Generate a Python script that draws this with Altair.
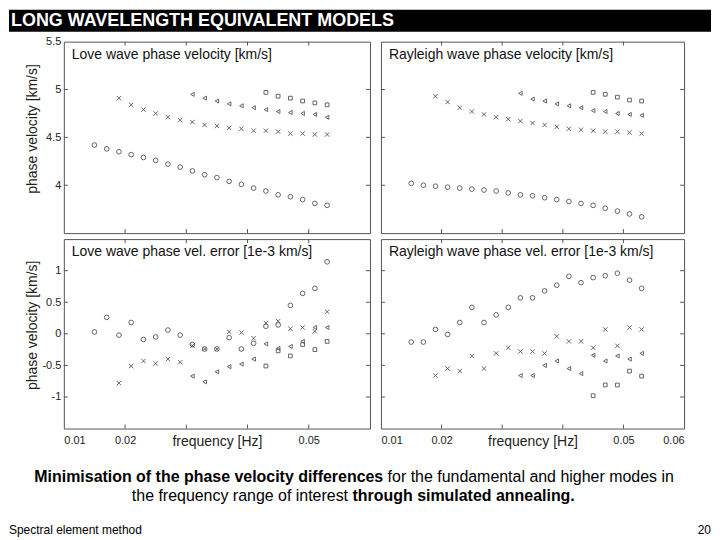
import altair as alt
import pandas as pd

FONT = "Liberation Sans, Arial, sans-serif"
FRAME = "#555555"
MARK = "#555555"

freq = [0.015, 0.017, 0.019, 0.021, 0.023, 0.025, 0.027, 0.029, 0.031, 0.033,
        0.035, 0.037, 0.039, 0.041, 0.043, 0.045, 0.047, 0.049, 0.051, 0.053]

# Love wave phase velocity [km/s]
love_v0 = [4.42, 4.38, 4.35, 4.32, 4.29, 4.26, 4.22, 4.19, 4.15, 4.11,
           4.08, 4.04, 4.01, 3.97, 3.94, 3.90, 3.88, 3.85, 3.81, 3.79]
love_v1 = [4.91, 4.84, 4.79, 4.75, 4.71, 4.68, 4.66, 4.63, 4.62, 4.60,
           4.59, 4.57, 4.57, 4.56, 4.54, 4.54, 4.53, 4.53]
love_v2 = [4.95, 4.91, 4.88, 4.85, 4.83, 4.81, 4.79, 4.77, 4.76, 4.75, 4.74, 4.71]
love_v3 = [4.97, 4.93, 4.91, 4.88, 4.86, 4.84]

# Rayleigh wave phase velocity [km/s]
ray_v0 = [4.02, 4.00, 3.99, 3.98, 3.97, 3.96, 3.95, 3.94, 3.92, 3.90,
          3.89, 3.87, 3.85, 3.83, 3.81, 3.79, 3.76, 3.73, 3.70, 3.67]
ray_v1 = [4.93, 4.87, 4.81, 4.77, 4.74, 4.71, 4.69, 4.67, 4.65, 4.63,
          4.61, 4.59, 4.58, 4.57, 4.56, 4.56, 4.55, 4.54]
ray_v2 = [4.96, 4.90, 4.88, 4.85, 4.83, 4.81, 4.78, 4.77, 4.75, 4.74, 4.73]
ray_v3 = [4.97, 4.95, 4.92, 4.89, 4.88]

# Love wave phase velocity error [1e-3 km/s]
love_e0 = [0.03, 0.26, -0.02, 0.18, -0.09, -0.05, 0.06, -0.02, -0.17, -0.24,
           -0.24, -0.06, -0.24, -0.15, 0.12, 0.14, 0.45, 0.64, 0.72, 1.14]
love_e1 = [-0.78, -0.51, -0.43, -0.47, -0.40, -0.45, -0.19, -0.24, -0.24, 0.03,
           0.02, -0.07, 0.17, 0.20, 0.08, 0.10, 0.04, 0.35]
love_e2 = [-0.67, -0.76, -0.60, -0.52, -0.48, -0.40, -0.16, -0.23, -0.20, -0.12, 0.10, 0.10]
love_e3 = [-0.51, -0.27, -0.35, -0.17, -0.25, -0.12]

# Rayleigh wave phase velocity error [1e-3 km/s]
ray_e0 = [-0.13, -0.13, 0.07, -0.01, 0.18, 0.42, 0.18, 0.30, 0.42, 0.57,
          0.57, 0.68, 0.77, 0.91, 0.81, 0.89, 0.92, 0.96, 0.85, 0.72]
ray_e1 = [-0.66, -0.55, -0.59, -0.35, -0.55, -0.31, -0.22, -0.28, -0.28, -0.31,
          -0.04, -0.12, -0.12, -0.22, 0.07, -0.19, 0.10, 0.07]
ray_e2 = [-0.66, -0.66, -0.50, -0.43, -0.55, -0.63, -0.34, -0.43, -0.35, -0.40, -0.31]
ray_e3 = [-0.98, -0.81, -0.81, -0.59, -0.67]

modes = ["fundamental", "1st higher", "2nd higher", "3rd higher"]
shapes = ["circle", "M-1,-1L1,1M1,-1L-1,1", "triangle-left", "square"]
sizes = [22, 14, 24, 16]

x_ticks = [0.02, 0.03, 0.04, 0.05]
v_ticks = [4.0, 4.5, 5.0]
v_labels = [4, 4.5, 5, 5.5]
e_ticks = [-1, -0.5, 0, 0.5, 1]
left_xlabels = [0.01, 0.02, 0.05]
right_xlabels = [0.01, 0.02, 0.05, 0.06]


def build_df(series, starts):
    rows = []
    for mode, vals, s in zip(modes, series, starts):
        for f, v in zip(freq[s:], vals):
            rows.append({"f": f, "v": v, "mode": mode})
    return pd.DataFrame(rows)


love_v = build_df([love_v0, love_v1, love_v2, love_v3], [0, 2, 8, 14])
ray_v = build_df([ray_v0, ray_v1, ray_v2, ray_v3], [0, 2, 9, 15])
love_e = build_df([love_e0, love_e1, love_e2, love_e3], [0, 2, 8, 14])
ray_e = build_df([ray_e0, ray_e1, ray_e2, ray_e3], [0, 2, 9, 15])


def panel(df, ydom, yticks, ylabels, W, H, label, left, bottom, xlabels):
    xs = alt.Scale(domain=[0.01, 0.06], nice=False, zero=False)
    ys = alt.Scale(domain=ydom, nice=False, zero=False)
    if bottom:
        xaxis = alt.Axis(values=xlabels, labelExpr="toString(datum.value)",
                         title="frequency [Hz]", ticks=False, tickSize=0,
                         domain=False, grid=False, labelPadding=6,
                         labelFontSize=11, labelFont=FONT, labelColor="#222",
                         titleFontSize=14, titleFont=FONT, titleFontWeight="normal",
                         titleColor="#222", titleY=13, titleBaseline="middle")
    else:
        xaxis = None
    if left:
        yaxis = alt.Axis(values=ylabels, labelExpr="toString(datum.value)",
                         title="phase velocity [km/s]", ticks=False, tickSize=0,
                         domain=False, grid=False, labelPadding=3,
                         labelFontSize=11, labelFont=FONT, labelColor="#222",
                         titleFontSize=14, titleFont=FONT, titleFontWeight="normal",
                         titleColor="#222", titleX=-31, titleY=H / 2 - 9,
                         titleBaseline="middle")
    else:
        yaxis = None

    X = alt.X("f:Q", scale=xs, axis=xaxis)
    Y = alt.Y("v:Q", scale=ys, axis=yaxis)

    pts = alt.Chart(df).mark_point(filled=False, color=MARK, strokeWidth=0.9, opacity=1).encode(
        x=X, y=Y,
        shape=alt.Shape("mode:N", scale=alt.Scale(domain=modes, range=shapes), legend=None),
        size=alt.Size("mode:N", scale=alt.Scale(domain=modes, range=sizes), legend=None),
    )

    xt = pd.DataFrame({"f": x_ticks})
    yt = pd.DataFrame({"v": yticks})
    tick_top = alt.Chart(xt).mark_rule(color=FRAME, strokeWidth=1).encode(
        x=X, y=alt.value(0), y2=alt.value(4))
    tick_bot = alt.Chart(xt).mark_rule(color=FRAME, strokeWidth=1).encode(
        x=X, y=alt.value(H - 4), y2=alt.value(H))
    tick_l = alt.Chart(yt).mark_rule(color=FRAME, strokeWidth=1).encode(
        y=Y, x=alt.value(0), x2=alt.value(4))
    tick_r = alt.Chart(yt).mark_rule(color=FRAME, strokeWidth=1).encode(
        y=Y, x=alt.value(W - 4), x2=alt.value(W))

    lbl = alt.Chart(pd.DataFrame({"t": [label]})).mark_text(
        align="left", baseline="middle", fontSize=14, font=FONT, color="#111").encode(
        x=alt.value(8), y=alt.value(13), text="t:N")

    return alt.layer(pts, tick_top, tick_bot, tick_l, tick_r, lbl).properties(width=W, height=H)


WL, WR = 307, 304
H1, H2 = 192, 190

p1 = panel(love_v, [3.5, 5.5], v_ticks, v_labels, WL, H1,
           "Love wave phase velocity [km/s]", True, False, None)
p2 = panel(ray_v, [3.5, 5.5], v_ticks, v_labels, WR, H1,
           "Rayleigh wave phase velocity [km/s]", False, False, None)
p3 = panel(love_e, [-1.5, 1.5], e_ticks, e_ticks, WL, H2,
           "Love wave phase vel. error [1e-3 km/s]", True, True, left_xlabels)
p4 = panel(ray_e, [-1.5, 1.5], e_ticks, e_ticks, WR, H2,
           "Rayleigh wave phase vel. error [1e-3 km/s]", False, True, right_xlabels)

NOSTROKE = alt.ViewBackground(stroke="transparent")

# Title bar
title_text = ["LONG WAVELENGTH EQUIVALENT MODELS"]
bar = alt.Chart(pd.DataFrame({"t": title_text})).mark_rect(color="black").encode(
    x=alt.value(-55), x2=alt.value(649), y=alt.value(0), y2=alt.value(22))
bar_txt = alt.Chart(pd.DataFrame({"t": title_text})).mark_text(
    align="left", baseline="middle", fontSize=18, fontWeight="bold", font=FONT,
    color="white").encode(x=alt.value(-53), y=alt.value(11), text="t:N")
top = alt.layer(bar, bar_txt).properties(width=WL, height=26, view=NOSTROKE)

# invisible placeholder for the empty grid cell
blank = alt.Chart(pd.DataFrame({"t": [0]})).mark_rect(opacity=0).encode(
    x=alt.value(0), x2=alt.value(10), y=alt.value(5), y2=alt.value(15)
).properties(width=WR, height=26, view=NOSTROKE)

# Caption and footer
cap1_bold = ["Minimisation of the phase velocity differences"]
cap1_reg = ["for the fundamental and higher modes in"]
cap2_reg = ["the frequency range of interest"]
cap2_bold = ["through simulated annealing."]
footer_l = ["Spectral element method"]
footer_r = ["20"]


def txt(s, x, y, align, size, weight="normal"):
    return alt.Chart(pd.DataFrame({"t": s})).mark_text(
        align=align, baseline="middle", fontSize=size, fontWeight=weight,
        font=FONT, color="black").encode(x=alt.value(x), y=alt.value(y), text="t:N")


bottom = alt.layer(
    txt(cap1_bold, 320.3, 43, "right", 16, "bold"),
    txt(cap1_reg, 324.7, 43, "left", 16),
    txt(cap2_reg, 285, 62, "right", 16),
    txt(cap2_bold, 289.5, 62, "left", 16, "bold"),
    txt(footer_l, -55, 96, "left", 12),
    txt(footer_r, 649, 96, "right", 12),
).properties(width=WL, height=98, view=NOSTROKE)

chart = alt.concat(top, blank, p1, p2, p3, p4, bottom, columns=2,
                   spacing={"row": 6, "column": 11}, bounds="flush").properties(
    padding=0, background="white"
).configure_view(stroke=FRAME, strokeWidth=1).configure_axis(grid=False)

chart.save("out.html", embed_options={"renderer": "svg", "actions": False})
